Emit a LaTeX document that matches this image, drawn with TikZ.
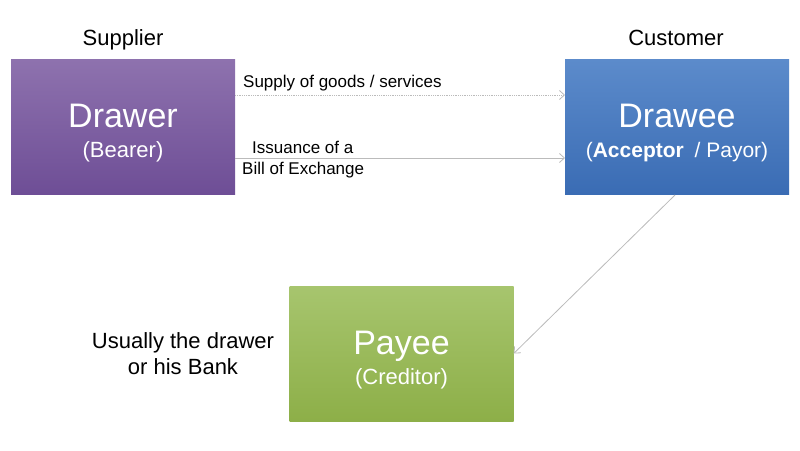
\documentclass[tikz,border=0pt]{standalone}
\usepackage{fontspec}
\setmainfont{Liberation Sans}
\usetikzlibrary{arrows.meta}
\definecolor{pTop}{HTML}{8E72AE}
\definecolor{pBot}{HTML}{6E4E96}
\definecolor{bTop}{HTML}{5C8BCB}
\definecolor{bBot}{HTML}{3A6CB4}
\definecolor{gTop}{HTML}{A7C56E}
\definecolor{gBot}{HTML}{8DAF48}
\definecolor{lineg}{HTML}{BBBBBB}
\newcommand{\boxtext}[3][22]{{\fontsize{34}{30}\selectfont\rule{0pt}{37pt}#2}\\{\fontsize{#1}{30}\selectfont #3}}
\tikzset{
  box/.style={minimum width=224pt, minimum height=135pt, inner sep=0pt, text=white, align=center, draw=none, font=\fontsize{22}{30}\selectfont},
  lbl/.style={font=\fontsize{22}{26}\selectfont, align=center, inner sep=0pt},
  arr/.style={draw=lineg, line width=0.8pt, -{Straight Barb[length=5pt,width=9pt]}},
  small/.style={font=\fontsize{17}{20}\selectfont, align=left, inner sep=0pt}
}
\begin{document}
\begin{tikzpicture}[x=1pt,y=-1pt]
\useasboundingbox (0,0) rectangle (800,450);
\node[box, top color=pTop, bottom color=pBot] (drawer) at (123,126.5)
  {\boxtext{Drawer}{(Bearer)}};
\node[box, top color=bTop, bottom color=bBot] (drawee) at (677,126.5)
  {\boxtext[21]{Drawee}{(\textbf{Acceptor}\hspace{5pt} / Payor)}};
\node[box, top color=gTop, bottom color=gBot] (payee) at (401.5,353.5)
  {\boxtext{Payee}{(Creditor)}};
\node[lbl, anchor=base] (supplier) at (123,45) {Supplier};
\node[lbl, anchor=base] (customer) at (676,45) {Customer};
\node[lbl] (usual) at (183,354) {Usually the drawer\\or his Bank};
\coordinate (s1) at (235,95);
\coordinate (e1) at (565,95);
\coordinate (s2) at (235,158);
\coordinate (e2) at (565,158);
\draw[arr, densely dotted] (s1) -- (e1);
\draw[arr] (s2) -- (e2);
\node[small, anchor=base west] (supply) at (243,87) {Supply of goods / services};
\node[small, anchor=base west] (iss) at (252,153) {Issuance of a};
\node[small, anchor=base west] (bill) at (242,174) {Bill of Exchange};
\coordinate (d0) at (675,195);
\draw[arr] (d0) -- (payee.east);
\end{tikzpicture}
\end{document}
